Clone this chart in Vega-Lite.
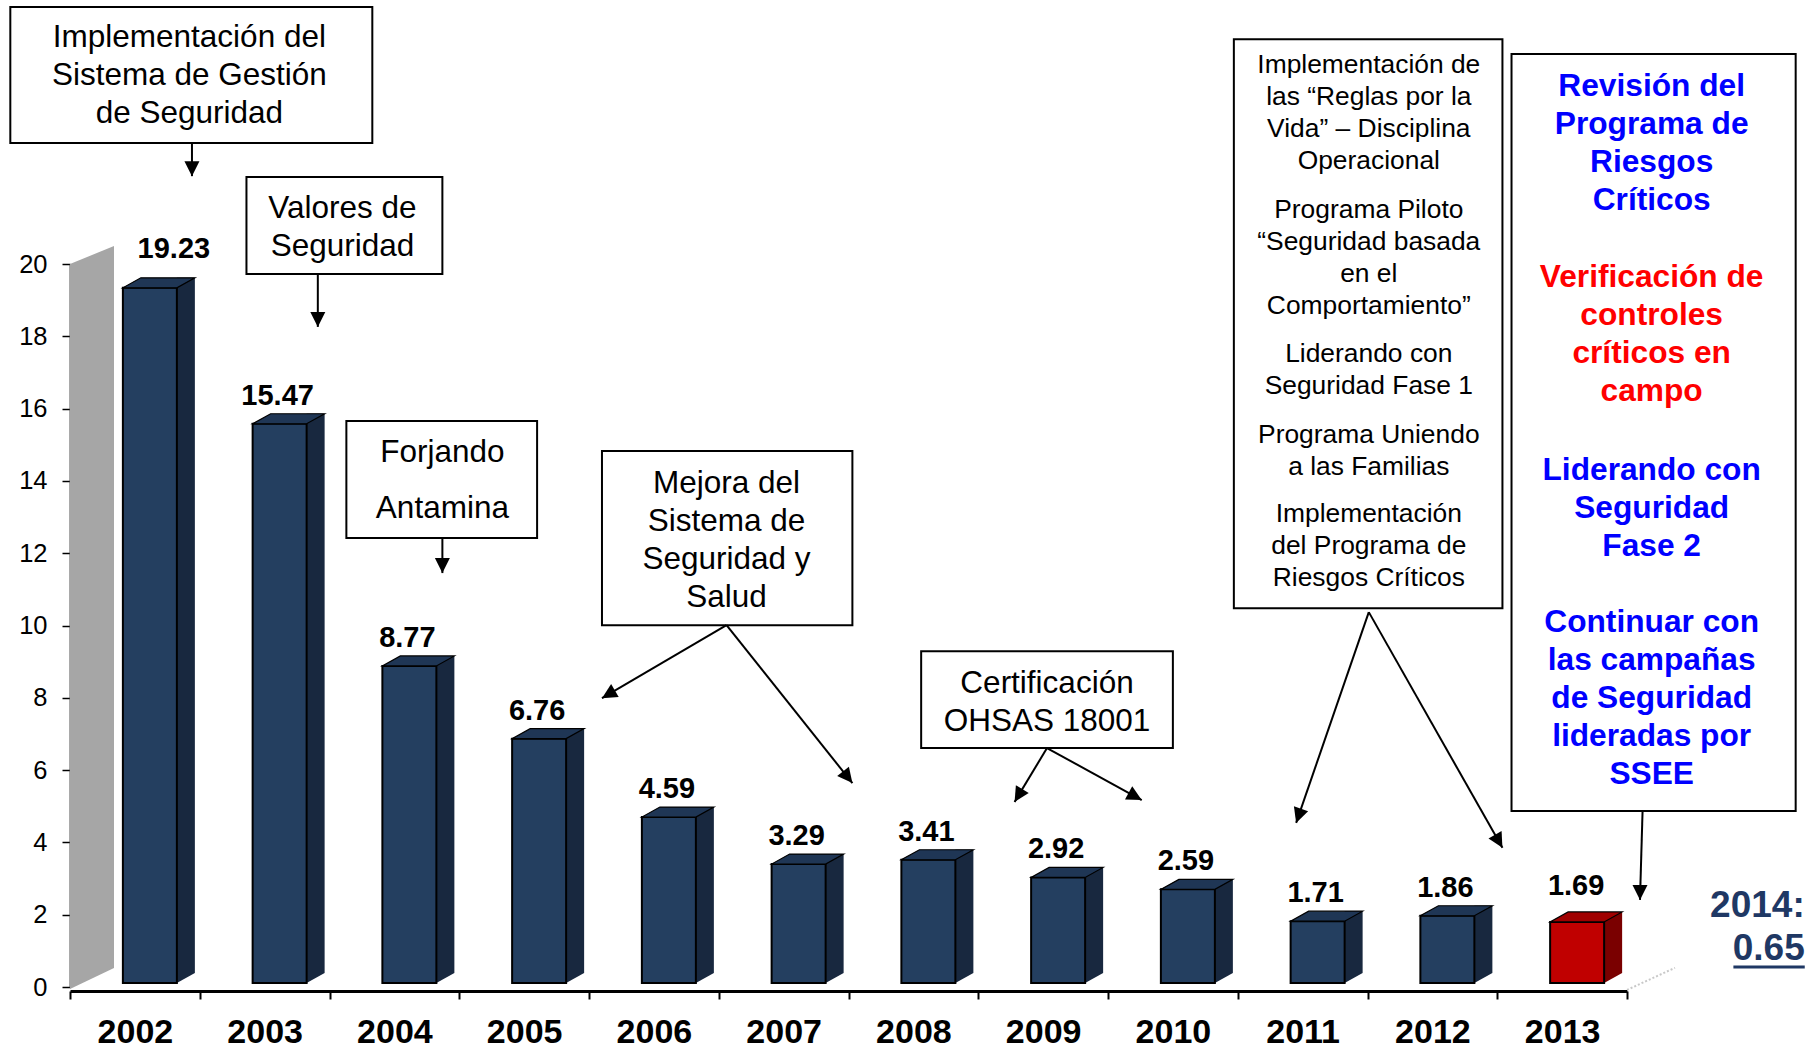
{
  "$schema": "https://vega.github.io/schema/vega-lite/v6.json",
  "width": 1557,
  "height": 723,
  "autosize": {"type": "none"},
  "padding": {"left": 70, "top": 264, "right": 187, "bottom": 61},
  "background": "white",
  "config": {"view": {"stroke": null}, "font": "Liberation Sans"},
  "datasets": {
    "barras": [
      {"year": "2002", "value": 19.23},
      {"year": "2003", "value": 15.47},
      {"year": "2004", "value": 8.77},
      {"year": "2005", "value": 6.76},
      {"year": "2006", "value": 4.59},
      {"year": "2007", "value": 3.29},
      {"year": "2008", "value": 3.41},
      {"year": "2009", "value": 2.92},
      {"year": "2010", "value": 2.59},
      {"year": "2011", "value": 1.71},
      {"year": "2012", "value": 1.86},
      {"year": "2013", "value": 1.69}
    ],
    "cuadros": [
      {"id": "sistema", "x": 2001.04, "x2": 2003.83, "y": 27.11, "y2": 23.35},
      {"id": "valores", "x": 2002.86, "x2": 2004.37, "y": 22.41, "y2": 19.72},
      {"id": "forjando", "x": 2003.63, "x2": 2005.10, "y": 15.66, "y2": 12.42},
      {"id": "mejora", "x": 2005.60, "x2": 2007.53, "y": 14.83, "y2": 10.01},
      {"id": "ohsas", "x": 2008.06, "x2": 2010.00, "y": 9.29, "y2": 6.61},
      {"id": "reglas", "x": 2010.47, "x2": 2012.54, "y": 26.22, "y2": 10.48},
      {"id": "plan2014", "x": 2012.61, "x2": 2014.80, "y": 25.81, "y2": 4.87}
    ],
    "textos": [
      {"id": "sistema", "x": 2002.42, "y": 26.00, "lineas": ["Implementación del", "Sistema de Gestión", "de Seguridad"]},
      {"id": "valores", "x": 2003.60, "y": 21.27, "lineas": ["Valores de", "Seguridad"]},
      {"id": "forjando", "x": 2004.37, "y": 14.52, "lineas": ["Forjando", "Antamina"]},
      {"id": "mejora", "x": 2006.56, "y": 13.67, "lineas": ["Mejora del", "Sistema de", "Seguridad y", "Salud"]},
      {"id": "ohsas", "x": 2009.03, "y": 8.13, "lineas": ["Certificación", "OHSAS 18001"]}
    ],
    "hitos2010": [
      {"x": 2011.51, "y": 25.28, "lineas": ["Implementación de", "las “Reglas por la", "Vida” – Disciplina", "Operacional"]},
      {"x": 2011.51, "y": 21.27, "lineas": ["Programa Piloto", "“Seguridad basada", "en el", "Comportamiento”"]},
      {"x": 2011.51, "y": 17.29, "lineas": ["Liderando con", "Seguridad Fase 1"]},
      {"x": 2011.51, "y": 15.05, "lineas": ["Programa Uniendo", "a las  Familias"]},
      {"x": 2011.51, "y": 12.86, "lineas": ["Implementación", "del Programa de", "Riesgos Críticos"]}
    ],
    "plan2014": [
      {"id": "revision", "x": 2013.69, "y": 24.65, "lineas": ["Revisión del", "Programa de", "Riesgos", "Críticos"]},
      {"id": "verificacion", "x": 2013.69, "y": 19.36, "lineas": ["Verificación de", "controles", "críticos en", "campo"]},
      {"id": "liderando", "x": 2013.69, "y": 14.02, "lineas": ["Liderando con", "Seguridad", "Fase 2"]},
      {"id": "campanas", "x": 2013.69, "y": 9.82, "lineas": ["Continuar con", "las campañas", "de Seguridad", "lideradas por", "SSEE"]}
    ],
    "meta": [
      {"x": 2014.87, "y": 1.94, "lineas": ["2014:", "0.65"]}
    ],
    "subrayado": [
      {"x": 2014.32, "x2": 2014.87, "y": 0.553}
    ],
    "flechas": [
      {"id": "a1", "x": 2002.44, "y": 23.35, "x2": 2002.44, "y2": 22.43},
      {"id": "a2", "x": 2003.41, "y": 19.72, "x2": 2003.41, "y2": 18.26},
      {"id": "a3", "x": 2004.37, "y": 12.42, "x2": 2004.37, "y2": 11.45},
      {"id": "a4", "x": 2006.56, "y": 10.01, "x2": 2005.60, "y2": 7.99},
      {"id": "a5", "x": 2006.56, "y": 10.01, "x2": 2007.53, "y2": 5.64},
      {"id": "a6", "x": 2009.03, "y": 6.61, "x2": 2008.78, "y2": 5.12},
      {"id": "a7", "x": 2009.03, "y": 6.61, "x2": 2009.76, "y2": 5.17},
      {"id": "a8", "x": 2011.51, "y": 10.37, "x2": 2010.95, "y2": 4.54},
      {"id": "a9", "x": 2011.51, "y": 10.37, "x2": 2012.54, "y2": 3.85},
      {"id": "a10", "x": 2013.62, "y": 4.87, "x2": 2013.60, "y2": 2.41}
    ]
  },
  "layer": [
    {
      "layer": [
        {
          "data": {"values": [{}]},
          "mark": {"type": "bar", "width": 44, "xOffset": -42.875, "y2Offset": -19, "color": "#a6a6a6"},
          "encoding": {
            "x": {"datum": "2002", "type": "nominal", "scale": {"type": "band", "paddingInner": 0, "paddingOuter": 0}},
            "y": {"datum": 20, "type": "quantitative", "scale": {"domain": [0, 20], "nice": false}},
            "y2": {"datum": 0}
          }
        },
        {
          "data": {"values": [{}]},
          "mark": {"type": "point", "shape": "M0,0L1,-0.409L1,0Z", "size": 7744, "filled": true, "color": "#a6a6a6", "opacity": 1, "strokeWidth": 0, "xOffset": -64.875},
          "encoding": {
            "x": {"datum": "2002", "type": "nominal"},
            "y": {"datum": 20, "type": "quantitative"}
          }
        },
        {
          "data": {"values": [{}]},
          "mark": {"type": "point", "shape": "M0,-0.4318L1,-0.4318L0,0.0455Z", "size": 7744, "filled": true, "color": "#a6a6a6", "opacity": 1, "strokeWidth": 0, "xOffset": -64.875},
          "encoding": {
            "x": {"datum": "2002", "type": "nominal"},
            "y": {"datum": 0, "type": "quantitative"}
          }
        },
        {
          "data": {"name": "barras"},
          "mark": {"type": "bar", "width": 18, "xOffset": 51, "yOffset": -14, "y2Offset": -14},
          "encoding": {
            "x": {"field": "year", "type": "nominal"},
            "y": {"field": "value", "type": "quantitative"},
            "y2": {"datum": 0},
            "fill": {"condition": {"test": "datum.year === '2013'", "value": "#7a0000"}, "value": "#18283f"}
          }
        },
        {
          "data": {"name": "barras"},
          "mark": {"type": "point", "shape": "M0,-0.5556L1,-0.5556L0,0Z", "size": 1296, "filled": true, "opacity": 1, "strokeWidth": 0, "xOffset": 42, "yOffset": -4},
          "encoding": {
            "x": {"field": "year", "type": "nominal"},
            "y": {"datum": 0, "type": "quantitative"},
            "fill": {"condition": {"test": "datum.year === '2013'", "value": "#7a0000"}, "value": "#18283f"}
          }
        },
        {
          "data": {"name": "barras"},
          "mark": {"type": "bar", "width": 54, "xOffset": 15, "yOffset": -4, "y2Offset": -4, "stroke": "black", "strokeWidth": 2},
          "encoding": {
            "x": {
              "field": "year", "type": "nominal",
              "axis": {
                "title": null, "tickBand": "extent", "domainColor": "black", "domainWidth": 3, "offset": 4,
                "tickColor": "black", "tickWidth": 2, "tickSize": 8,
                "labelFont": "Liberation Sans", "labelFontSize": 34, "labelFontWeight": "bold", "labelColor": "black",
                "labelPadding": 16, "labelAngle": 0, "labelAlign": "center", "labelBaseline": "top", "grid": false
              }
            },
            "y": {
              "field": "value", "type": "quantitative",
              "axis": {
                "title": null, "values": [0, 2, 4, 6, 8, 10, 12, 14, 16, 18, 20],
                "domainColor": "#555555", "domainWidth": 2, "tickColor": "black", "tickSize": 8, "tickWidth": 1.5,
                "labelFont": "Liberation Sans", "labelFontSize": 25.5, "labelColor": "black", "labelPadding": 15, "grid": false
              }
            },
            "y2": {"datum": 0},
            "fill": {"condition": {"test": "datum.year === '2013'", "value": "#c00000"}, "value": "#243f60"}
          }
        },
        {
          "data": {"name": "barras"},
          "mark": {"type": "point", "shape": "M-0.6,0L0.6,0L1,-0.2222L-0.2,-0.2222Z", "size": 8100, "filled": true, "opacity": 1, "stroke": "black", "strokeWidth": 1.2, "xOffset": 15, "yOffset": -4},
          "encoding": {
            "x": {"field": "year", "type": "nominal"},
            "y": {"field": "value", "type": "quantitative"},
            "fill": {"condition": {"test": "datum.year === '2013'", "value": "#a00000"}, "value": "#1f3655"}
          }
        },
        {
          "data": {"name": "barras"},
          "transform": [{"filter": "datum.year !== '2002' && datum.year !== '2013'"}],
          "mark": {"type": "text", "font": "Liberation Sans", "fontSize": 29, "fontWeight": "bold", "color": "black", "align": "center", "baseline": "alphabetic", "dx": 13, "dy": -23},
          "encoding": {
            "x": {"field": "year", "type": "nominal"},
            "y": {"field": "value", "type": "quantitative"},
            "text": {"field": "value", "type": "quantitative", "format": ".2f"}
          }
        },
        {
          "data": {"name": "barras"},
          "transform": [{"filter": "datum.year === '2013'"}],
          "mark": {"type": "text", "font": "Liberation Sans", "fontSize": 29, "fontWeight": "bold", "color": "black", "align": "center", "baseline": "alphabetic", "dx": 14, "dy": -31},
          "encoding": {
            "x": {"field": "year", "type": "nominal"},
            "y": {"field": "value", "type": "quantitative"},
            "text": {"field": "value", "type": "quantitative", "format": ".2f"}
          }
        },
        {
          "data": {"name": "barras"},
          "transform": [{"filter": "datum.year === '2002'"}],
          "mark": {"type": "text", "font": "Liberation Sans", "fontSize": 29, "fontWeight": "bold", "color": "black", "align": "center", "baseline": "alphabetic", "dx": 39, "dy": -34},
          "encoding": {
            "x": {"field": "year", "type": "nominal"},
            "y": {"field": "value", "type": "quantitative"},
            "text": {"field": "value", "type": "quantitative", "format": ".2f"}
          }
        }
      ]
    },
    {
      "layer": [
        {
          "data": {"values": [{}]},
          "mark": {"type": "rule", "color": "#c8c8c8", "strokeWidth": 2, "strokeDash": [2, 2]},
          "encoding": {
            "x": {"datum": 2013.5, "type": "quantitative", "scale": {"domain": [2001.5, 2013.5], "nice": false, "zero": false}, "axis": null},
            "y": {"datum": -0.08, "type": "quantitative", "scale": {"domain": [0, 20], "nice": false}},
            "x2": {"datum": 2013.87},
            "y2": {"datum": 0.53}
          }
        },
        {
          "data": {"name": "cuadros"},
          "mark": {"type": "rect", "fill": "white", "stroke": "black", "strokeWidth": 2},
          "encoding": {
            "x": {"field": "x", "type": "quantitative", "scale": {"domain": [2001.5, 2013.5], "nice": false, "zero": false}, "axis": null},
            "x2": {"field": "x2"},
            "y": {"field": "y", "type": "quantitative", "scale": {"domain": [0, 20], "nice": false}},
            "y2": {"field": "y2"}
          }
        },
        {
          "data": {"name": "textos"},
          "transform": [{"filter": "datum.id !== 'forjando'"}],
          "mark": {"type": "text", "font": "Liberation Sans", "fontSize": 31.5, "lineHeight": 38, "color": "black", "align": "center", "baseline": "alphabetic"},
          "encoding": {
            "x": {"field": "x", "type": "quantitative", "scale": {"domain": [2001.5, 2013.5], "nice": false, "zero": false}, "axis": null},
            "y": {"field": "y", "type": "quantitative", "scale": {"domain": [0, 20], "nice": false}},
            "text": {"field": "lineas", "type": "nominal"}
          }
        },
        {
          "data": {"name": "textos"},
          "transform": [{"filter": "datum.id === 'forjando'"}],
          "mark": {"type": "text", "font": "Liberation Sans", "fontSize": 31.5, "lineHeight": 56, "color": "black", "align": "center", "baseline": "alphabetic"},
          "encoding": {
            "x": {"field": "x", "type": "quantitative", "scale": {"domain": [2001.5, 2013.5], "nice": false, "zero": false}, "axis": null},
            "y": {"field": "y", "type": "quantitative", "scale": {"domain": [0, 20], "nice": false}},
            "text": {"field": "lineas", "type": "nominal"}
          }
        },
        {
          "data": {"name": "hitos2010"},
          "mark": {"type": "text", "font": "Liberation Sans", "fontSize": 26.4, "lineHeight": 32, "color": "black", "align": "center", "baseline": "alphabetic"},
          "encoding": {
            "x": {"field": "x", "type": "quantitative", "scale": {"domain": [2001.5, 2013.5], "nice": false, "zero": false}, "axis": null},
            "y": {"field": "y", "type": "quantitative", "scale": {"domain": [0, 20], "nice": false}},
            "text": {"field": "lineas", "type": "nominal"}
          }
        },
        {
          "data": {"name": "plan2014"},
          "mark": {"type": "text", "font": "Liberation Sans", "fontSize": 31.7, "fontWeight": "bold", "lineHeight": 38, "align": "center", "baseline": "alphabetic"},
          "encoding": {
            "x": {"field": "x", "type": "quantitative", "scale": {"domain": [2001.5, 2013.5], "nice": false, "zero": false}, "axis": null},
            "y": {"field": "y", "type": "quantitative", "scale": {"domain": [0, 20], "nice": false}},
            "text": {"field": "lineas", "type": "nominal"},
            "fill": {"condition": {"test": "datum.id === 'verificacion'", "value": "#ff0000"}, "value": "#0000ff"}
          }
        },
        {
          "data": {"name": "meta"},
          "mark": {"type": "text", "font": "Liberation Sans", "fontSize": 37, "fontWeight": "bold", "lineHeight": 43, "color": "#1f3864", "align": "right", "baseline": "alphabetic"},
          "encoding": {
            "x": {"field": "x", "type": "quantitative", "scale": {"domain": [2001.5, 2013.5], "nice": false, "zero": false}, "axis": null},
            "y": {"field": "y", "type": "quantitative", "scale": {"domain": [0, 20], "nice": false}},
            "text": {"field": "lineas", "type": "nominal"}
          }
        },
        {
          "data": {"name": "subrayado"},
          "mark": {"type": "rule", "color": "#1f3864", "strokeWidth": 3},
          "encoding": {
            "x": {"field": "x", "type": "quantitative", "scale": {"domain": [2001.5, 2013.5], "nice": false, "zero": false}, "axis": null},
            "x2": {"field": "x2"},
            "y": {"field": "y", "type": "quantitative", "scale": {"domain": [0, 20], "nice": false}}
          }
        },
        {
          "data": {"name": "flechas"},
          "mark": {"type": "rule", "color": "black", "strokeWidth": 2},
          "encoding": {
            "x": {"field": "x", "type": "quantitative", "scale": {"domain": [2001.5, 2013.5], "nice": false, "zero": false}, "axis": null},
            "x2": {"field": "x2"},
            "y": {"field": "y", "type": "quantitative", "scale": {"domain": [0, 20], "nice": false}},
            "y2": {"field": "y2"}
          }
        },
        {
          "data": {"name": "flechas"},
          "transform": [{"filter": "indexof(['a1','a2','a3','a10'], datum.id) >= 0"}],
          "mark": {"type": "point", "shape": "M0,0L-0.5,1L0.5,1Z", "size": 900, "filled": true, "color": "black", "opacity": 1, "strokeWidth": 0, "angle": 180},
          "encoding": {
            "x": {"field": "x2", "type": "quantitative", "scale": {"domain": [2001.5, 2013.5], "nice": false, "zero": false}, "axis": null},
            "y": {"field": "y2", "type": "quantitative", "scale": {"domain": [0, 20], "nice": false}}
          }
        },
        {
          "data": {"name": "flechas"},
          "transform": [{"filter": "datum.id === 'a4'"}],
          "mark": {"type": "point", "shape": "M0,0L-0.5,1L0.5,1Z", "size": 900, "filled": true, "color": "black", "opacity": 1, "strokeWidth": 0, "angle": -120.4},
          "encoding": {
            "x": {"field": "x2", "type": "quantitative", "scale": {"domain": [2001.5, 2013.5], "nice": false, "zero": false}, "axis": null},
            "y": {"field": "y2", "type": "quantitative", "scale": {"domain": [0, 20], "nice": false}}
          }
        },
        {
          "data": {"name": "flechas"},
          "transform": [{"filter": "datum.id === 'a5'"}],
          "mark": {"type": "point", "shape": "M0,0L-0.5,1L0.5,1Z", "size": 900, "filled": true, "color": "black", "opacity": 1, "strokeWidth": 0, "angle": 141.45},
          "encoding": {
            "x": {"field": "x2", "type": "quantitative", "scale": {"domain": [2001.5, 2013.5], "nice": false, "zero": false}, "axis": null},
            "y": {"field": "y2", "type": "quantitative", "scale": {"domain": [0, 20], "nice": false}}
          }
        },
        {
          "data": {"name": "flechas"},
          "transform": [{"filter": "datum.id === 'a6'"}],
          "mark": {"type": "point", "shape": "M0,0L-0.5,1L0.5,1Z", "size": 900, "filled": true, "color": "black", "opacity": 1, "strokeWidth": 0, "angle": -149},
          "encoding": {
            "x": {"field": "x2", "type": "quantitative", "scale": {"domain": [2001.5, 2013.5], "nice": false, "zero": false}, "axis": null},
            "y": {"field": "y2", "type": "quantitative", "scale": {"domain": [0, 20], "nice": false}}
          }
        },
        {
          "data": {"name": "flechas"},
          "transform": [{"filter": "datum.id === 'a7'"}],
          "mark": {"type": "point", "shape": "M0,0L-0.5,1L0.5,1Z", "size": 900, "filled": true, "color": "black", "opacity": 1, "strokeWidth": 0, "angle": 118.8},
          "encoding": {
            "x": {"field": "x2", "type": "quantitative", "scale": {"domain": [2001.5, 2013.5], "nice": false, "zero": false}, "axis": null},
            "y": {"field": "y2", "type": "quantitative", "scale": {"domain": [0, 20], "nice": false}}
          }
        },
        {
          "data": {"name": "flechas"},
          "transform": [{"filter": "datum.id === 'a8'"}],
          "mark": {"type": "point", "shape": "M0,0L-0.5,1L0.5,1Z", "size": 900, "filled": true, "color": "black", "opacity": 1, "strokeWidth": 0, "angle": -161},
          "encoding": {
            "x": {"field": "x2", "type": "quantitative", "scale": {"domain": [2001.5, 2013.5], "nice": false, "zero": false}, "axis": null},
            "y": {"field": "y2", "type": "quantitative", "scale": {"domain": [0, 20], "nice": false}}
          }
        },
        {
          "data": {"name": "flechas"},
          "transform": [{"filter": "datum.id === 'a9'"}],
          "mark": {"type": "point", "shape": "M0,0L-0.5,1L0.5,1Z", "size": 900, "filled": true, "color": "black", "opacity": 1, "strokeWidth": 0, "angle": 150.5},
          "encoding": {
            "x": {"field": "x2", "type": "quantitative", "scale": {"domain": [2001.5, 2013.5], "nice": false, "zero": false}, "axis": null},
            "y": {"field": "y2", "type": "quantitative", "scale": {"domain": [0, 20], "nice": false}}
          }
        }
      ]
    }
  ],
  "resolve": {"scale": {"x": "independent"}}
}
